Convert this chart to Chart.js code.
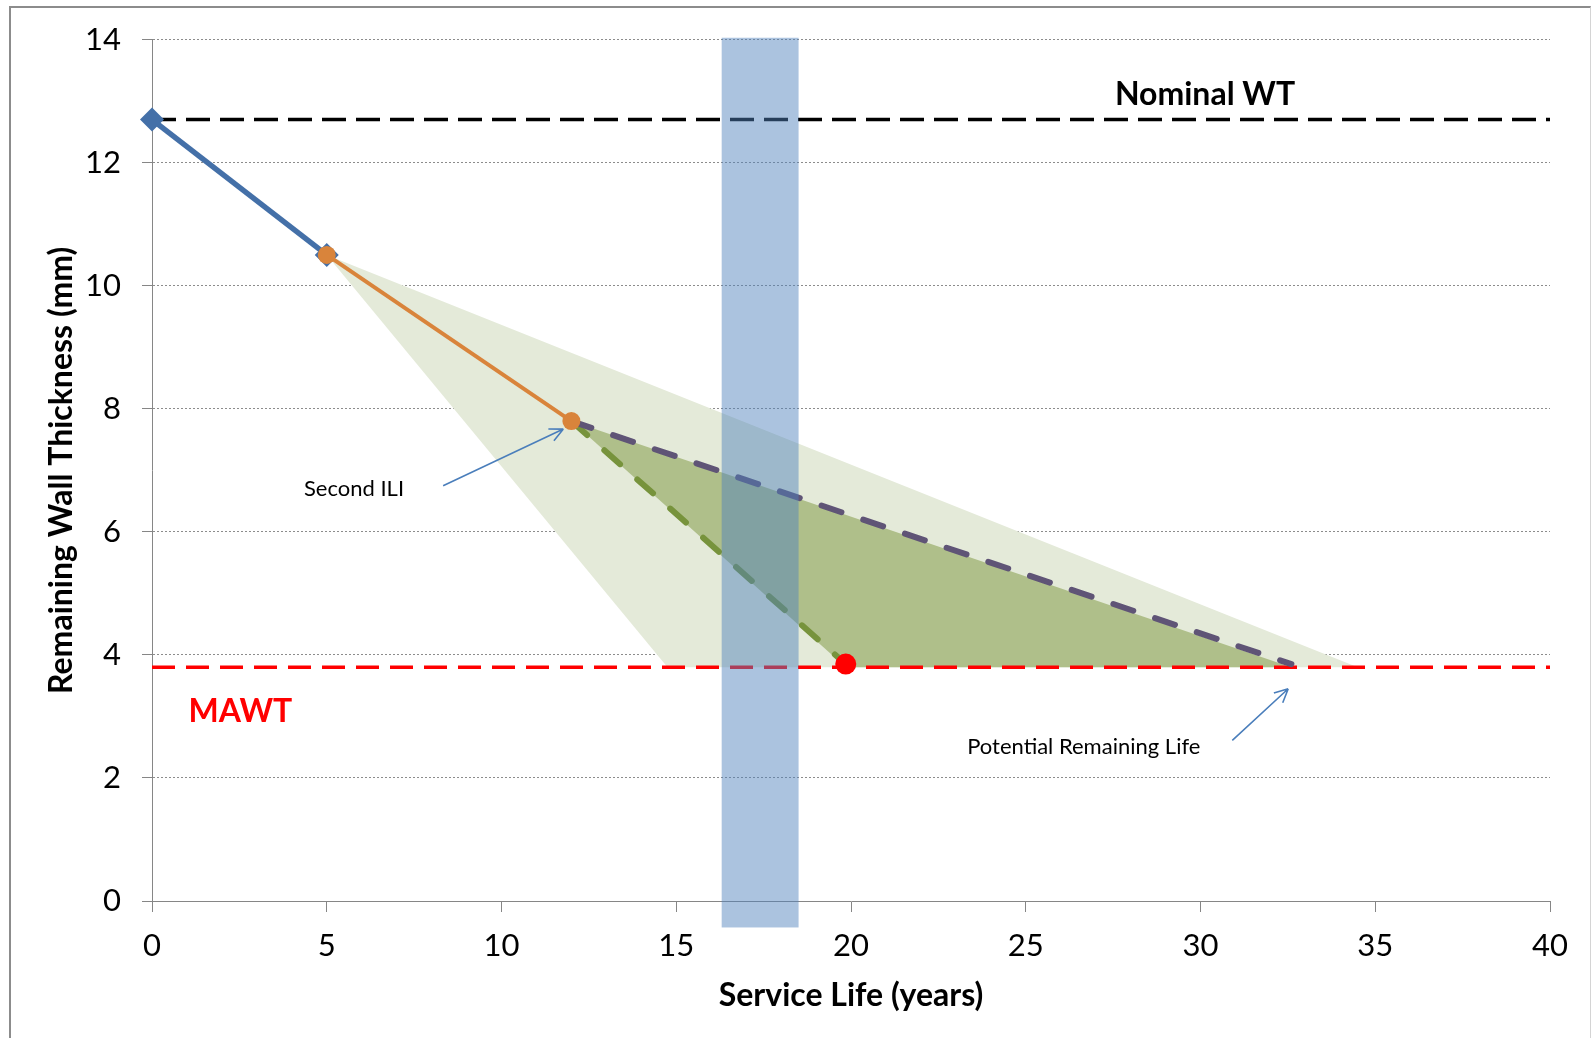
<!DOCTYPE html>
<html>
<head>
<meta charset="utf-8">
<title>Remaining wall thickness</title>
<script src="https://cdn.jsdelivr.net/npm/chart.js@4.4.1/dist/chart.umd.min.js"></script>
<style>
  body { margin: 0; background: #fff; overflow: hidden; }
  #wrap { position: relative; width: 1591px; height: 1038px; }
  #frame {
    position: absolute; left: 9px; top: 6px; width: 1579px; height: 1040px;
    border-left: 2px solid #8c8c8c; border-top: 2px solid #8c8c8c; border-right: 1px solid #d4d4d4;
    pointer-events: none;
  }
</style>
</head>
<body>
<div id="wrap">
  <canvas id="id-grafico" width="1591" height="1038"></canvas>
  <div id="frame"></div>
</div>
<script>
// values (x = years, y = mm)
const nominalWT = 12.7;
const mawt = 3.8;
const lifeRange = [0, 40];

const firstIliX = [0, 5];
const firstIliY = [12.7, 10.5];
const secondIliX = [5, 12];
const secondIliY = [10.5, 7.8];
const slowRateX = [12, 32.6];
const slowRateY = [7.8, 3.85];
const fastRateX = [12, 19.85];
const fastRateY = [7.8, 3.85];
const failX = [19.85];
const failY = [3.85];

const outerZoneX = [5, 34.5, 14.75];
const outerZoneY = [10.5, 3.8, 3.8];
const innerZoneX = [12, 32.6, 19.85];
const innerZoneY = [7.8, 3.8, 3.8];

const bandX = [16.3, 18.5];
const bandY = [-0.43, 14.03];

const xTicksStep = 5;
const yTicksStep = 2;

const labelText = ['Nominal WT', 'MAWT', 'Second ILI', 'Potential Remaining Life'];
const labelX = [30.13, 2.53, 5.78, 26.66];
const labelY = [13.1, 3.07, 6.69, 2.5];
const labelFont = ['bold 32px Lato', 'bold 32px Lato', '22px Lato', '22px Lato'];
const labelColor = ['#000000', '#ff0000', '#000000', '#000000'];

const arrowFromX = [8.33, 30.91];
const arrowFromY = [6.75, 2.61];
const arrowToX = [11.77, 32.51];
const arrowToY = [7.67, 3.45];

function pts(xs, ys) {
    return xs.map((x, i) => ({x: x, y: ys[i]}));
}

Chart.defaults.font.family = 'Lato';
Chart.defaults.color = '#000';

const extras = {
    id: 'extras',
    afterDatasetsDraw(chart) {
        const ctx = chart.ctx;
        const sx = chart.scales.x;
        const sy = chart.scales.y;
        ctx.save();
        // labels
        ctx.textAlign = 'center';
        ctx.textBaseline = 'middle';
        for (let i = 0; i < labelText.length; i++) {
            ctx.font = labelFont[i];
            ctx.fillStyle = labelColor[i];
            ctx.fillText(labelText[i], sx.getPixelForValue(labelX[i]), sy.getPixelForValue(labelY[i]));
        }
        // arrows
        ctx.strokeStyle = '#4a7ebb';
        ctx.lineWidth = 1.6;
        for (let i = 0; i < arrowFromX.length; i++) {
            const x0 = sx.getPixelForValue(arrowFromX[i]), y0 = sy.getPixelForValue(arrowFromY[i]);
            const x1 = sx.getPixelForValue(arrowToX[i]), y1 = sy.getPixelForValue(arrowToY[i]);
            const a = Math.atan2(y1 - y0, x1 - x0);
            ctx.beginPath();
            ctx.moveTo(x0, y0);
            ctx.lineTo(x1, y1);
            for (const s of [-1, 1]) {
                ctx.moveTo(x1, y1);
                ctx.lineTo(x1 - 15 * Math.cos(a + s * 0.45), y1 - 15 * Math.sin(a + s * 0.45));
            }
            ctx.stroke();
        }
        // inspection window band, on top of everything
        const bx0 = sx.getPixelForValue(bandX[0]), bx1 = sx.getPixelForValue(bandX[1]);
        const by0 = sy.getPixelForValue(bandY[1]), by1 = sy.getPixelForValue(bandY[0]);
        ctx.fillStyle = 'rgba(79,129,189,0.48)';
        ctx.fillRect(bx0, by0, bx1 - bx0, by1 - by0);
        ctx.restore();
    }
};

new Chart('id-grafico', {
    type: 'line',
    data: {
        datasets: [
            {
                label: 'fail',
                data: pts(failX, failY),
                showLine: false,
                pointRadius: 10.5,
                pointBackgroundColor: '#ff0000',
                pointBorderWidth: 0,
                clip: false
            },
            {
                label: 'second ILI',
                data: pts(secondIliX, secondIliY),
                borderColor: '#d9843b',
                borderWidth: 4,
                pointRadius: 9,
                pointBackgroundColor: '#d9843b',
                pointBorderWidth: 0
            },
            {
                label: 'first ILI',
                data: pts(firstIliX, firstIliY),
                borderColor: '#4470a8',
                borderWidth: 5.5,
                pointStyle: 'rectRot',
                pointRadius: 12,
                pointBackgroundColor: '#4470a8',
                pointBorderWidth: 0,
                clip: false
            },
            {
                label: 'slow rate',
                data: pts(slowRateX, slowRateY),
                borderColor: '#5f5476',
                borderWidth: 6,
                borderDash: [21, 23],
                borderCapStyle: 'round',
                pointRadius: 0
            },
            {
                label: 'fast rate',
                data: pts(fastRateX, fastRateY),
                borderColor: '#77933c',
                borderWidth: 6,
                borderDash: [21, 23],
                borderCapStyle: 'round',
                pointRadius: 0
            },
            {
                label: 'MAWT',
                data: pts(lifeRange, [mawt, mawt]),
                borderColor: '#ff0000',
                borderWidth: 3.5,
                borderDash: [23, 11],
                pointRadius: 0
            },
            {
                label: 'Nominal WT',
                data: pts(lifeRange, [nominalWT, nominalWT]),
                borderColor: '#000000',
                borderWidth: 3.5,
                borderDash: [24, 10],
                pointRadius: 0
            },
            {
                label: 'inner zone',
                data: pts(innerZoneX, innerZoneY),
                fill: 'shape',
                backgroundColor: '#afbf8a',
                borderColor: 'transparent',
                borderWidth: 0,
                pointRadius: 0
            },
            {
                label: 'outer zone',
                data: pts(outerZoneX, outerZoneY),
                fill: 'shape',
                backgroundColor: '#e4ead9',
                borderColor: 'transparent',
                borderWidth: 0,
                pointRadius: 0
            }
        ]
    },
    options: {
        responsive: false,
        animation: false,
        events: [],
        layout: {padding: {top: 38, right: 41, bottom: 0, left: 0}},
        plugins: {
            legend: {display: false},
            tooltip: {enabled: false}
        },
        scales: {
            x: {
                type: 'linear',
                min: lifeRange[0],
                max: lifeRange[1],
                ticks: {stepSize: xTicksStep, font: {size: 31}, color: '#000', padding: 15},
                grid: {drawOnChartArea: false, tickLength: 11, color: '#868686'},
                border: {color: '#868686'},
                title: {
                    display: true,
                    text: 'Service Life (years)',
                    font: {size: 32, weight: 'bold'},
                    color: '#000',
                    padding: {top: 0, bottom: 23}
                },
                afterFit(scale) { scale.height = 137; }
            },
            y: {
                min: 0,
                max: 14,
                ticks: {stepSize: yTicksStep, font: {size: 31}, color: '#000', padding: 21},
                grid: {color: '#8c8c8c', tickLength: 10, tickColor: '#868686', tickBorderDash: []},
                border: {color: '#868686', dash: [2, 2]},
                title: {
                    display: true,
                    text: 'Remaining Wall Thickness (mm)',
                    font: {size: 32, weight: 'bold'},
                    color: '#000',
                    padding: {top: 42, bottom: 0}
                },
                afterFit(scale) { scale.width = 152; }
            }
        }
    },
    plugins: [extras]
});
</script>
</body>
</html>
